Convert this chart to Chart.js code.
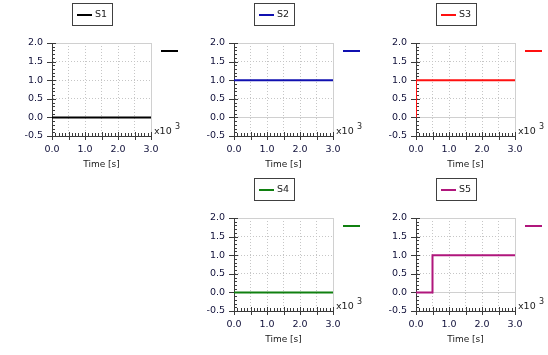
<!DOCTYPE html>
<html><head><meta charset="utf-8">
<script src="https://cdn.jsdelivr.net/npm/chart.js@4"></script>
<style>
html,body{margin:0;padding:0;background:#fff;width:548px;height:355px;overflow:hidden;}
canvas{position:absolute;}
</style></head><body>
<script>
// ---- data ----
const seriesNames = ['S1', 'S2', 'S3', 'S4', 'S5'];
const s1Time = [0, 3000];          const s1Value = [0, 0];
const s2Time = [0, 3000];          const s2Value = [1, 1];
const s3Time = [0, 0, 3000];       const s3Value = [0, 1, 1];
const s4Time = [0, 3000];          const s4Value = [0, 0];
const s5Time = [0, 500, 500, 3000]; const s5Value = [0, 0, 1, 1];
const xTickValues = [0, 1000, 2000, 3000];           // shown as x10^3
const yTickValues = [-0.5, 0, 0.5, 1, 1.5, 2];
const xAxisTitle = 'Time [s]';
const exponentBase = 'x10';
const exponentPower = '3';

// ---- styles ----
const seriesColors = ['#000000', '#1010b0', '#ff1010', '#108010', '#b0167c'];
const panelCells = [[0, 0], [1, 0], [2, 0], [1, 1], [2, 1]];
const CW = 182, CH = 175;
const labelColor = '#10103a';

const allTimes = [s1Time, s2Time, s3Time, s4Time, s5Time];
const allValues = [s1Value, s2Value, s3Value, s4Value, s5Value];

const decor = {
  id: 'decor',
  beforeDatasetsDraw(chart) {
    const {ctx, chartArea: a, scales: {x, y}} = chart;
    ctx.save();
    ctx.strokeStyle = '#3a3a3a';
    ctx.lineWidth = 1;
    ctx.beginPath();
    for (let i = 0; i <= 30; i++) {
      const px = Math.round(x.getPixelForValue(i * 100)) + 0.5;
      const major = i % 5 === 0;
      ctx.moveTo(px, a.bottom + (major ? 4 : 0));
      ctx.lineTo(px, a.bottom - (major ? 4 : 3));
    }
    for (let i = 0; i <= 25; i++) {
      const py = Math.round(y.getPixelForValue(-0.5 + i * 0.1)) + 0.5;
      const major = i % 5 === 0;
      ctx.moveTo(a.left - (major ? 5 : 0), py);
      ctx.lineTo(a.left + (major ? 4 : 3), py);
    }
    ctx.stroke();
    ctx.restore();
  },
  afterDraw(chart) {
    const {ctx, chartArea: a} = chart;
    const ds = chart.data.datasets[0];
    ctx.save();
    // legend box
    ctx.strokeStyle = '#404040';
    ctx.lineWidth = 1;
    ctx.strokeRect(72.5, 3.5, 40, 22);
    ctx.fillStyle = ds.borderColor;
    ctx.fillRect(77, 14, 15, 2);
    ctx.fillStyle = '#202020';
    ctx.font = '9.5px "DejaVu Sans"';
    ctx.textBaseline = 'middle';
    ctx.textAlign = 'left';
    ctx.fillText(ds.label, 95, 15);
    // right marker
    ctx.fillStyle = ds.borderColor;
    ctx.fillRect(a.right + 10, 50, 17, 2);
    // exponent
    ctx.fillStyle = '#202020';
    ctx.font = '9.5px "DejaVu Sans"';
    ctx.fillText(exponentBase, a.right + 3, a.bottom - 4);
    ctx.font = '8px "DejaVu Sans"';
    ctx.fillText(exponentPower, a.right + 24, a.bottom - 9);
    ctx.restore();
  }
};

seriesNames.forEach((name, k) => {
  const [col, row] = panelCells[k];
  const cv = document.createElement('canvas');
  cv.width = CW; cv.height = CH;
  cv.style.left = (col * CW) + 'px';
  cv.style.top = (row * CH) + 'px';
  cv.style.width = CW + 'px'; cv.style.height = CH + 'px';
  document.body.appendChild(cv);
  const pts = allTimes[k].map((t, i) => ({x: t, y: allValues[k][i]}));
  new Chart(cv, {
    type: 'line',
    data: {datasets: [{
      label: name, data: pts, borderColor: seriesColors[k], borderWidth: 2,
      pointRadius: 0, tension: 0, fill: false, borderJoinStyle: 'miter', borderCapStyle: 'butt'
    }]},
    options: {
      responsive: false, animation: false, devicePixelRatio: 1,
      layout: {padding: {top: 43, right: 31, left: 0, bottom: 0}},
      plugins: {legend: {display: false}, tooltip: {enabled: false}},
      scales: {
        x: {
          type: 'linear', min: 0, max: 3000,
          afterFit: s => { s.height = 39; },
          afterBuildTicks: s => {
            const t = [];
            for (let i = 0; i <= 6; i++) t.push({value: i * 500});
            s.ticks = t;
          },
          ticks: {
            autoSkip: false, maxRotation: 0, padding: 8, color: labelColor,
            font: {family: 'DejaVu Sans', size: 9.5},
            callback: v => xTickValues.includes(v) ? (v / 1000).toFixed(1) : ''
          },
          grid: {color: c => (c.tick && c.tick.value === 3000) ? '#d0d0d0' : '#c6c6c6', drawTicks: false},
          border: {color: '#3a3a3a', width: 1, dash: c => (!c.tick || c.tick.value === 3000 || c.tick.value === 0) ? [] : [1, 2]},
          title: {display: true, text: xAxisTitle, color: '#202020', padding: {top: 0, bottom: 5},
                  font: {family: 'DejaVu Sans', size: 9}}
        },
        y: {
          type: 'linear', min: -0.5, max: 2,
          afterFit: s => { s.width = 52; },
          afterBuildTicks: s => { s.ticks = yTickValues.map(v => ({value: v})); },
          ticks: {
            autoSkip: false, padding: 9, color: labelColor,
            font: {family: 'DejaVu Sans', size: 9.5},
            callback: v => v.toFixed(1)
          },
          grid: {color: c => (c.tick && (c.tick.value === 2 || c.tick.value === 0)) ? '#d0d0d0' : '#c6c6c6', drawTicks: false},
          border: {color: '#3a3a3a', width: 1, dash: c => (!c.tick || c.tick.value === 2 || c.tick.value === 0) ? [] : [1, 2]}
        }
      }
    },
    plugins: [decor]
  });
});
</script>
</body></html>
